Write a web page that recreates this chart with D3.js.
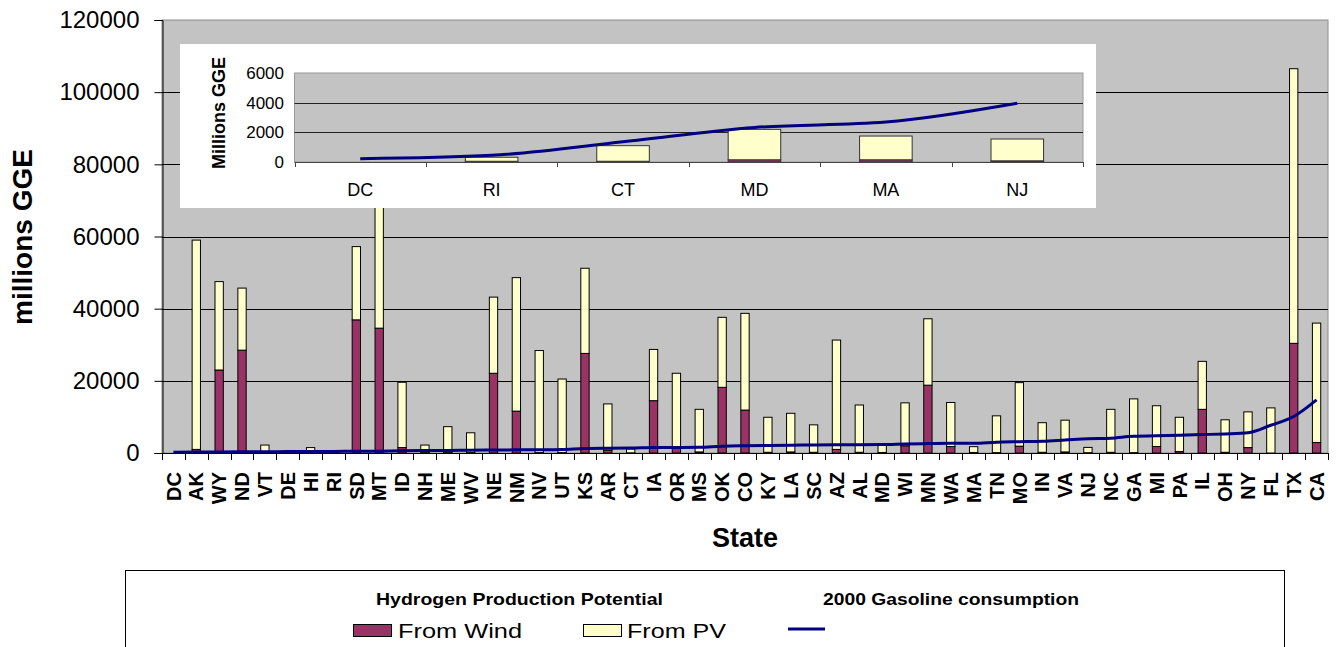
<!DOCTYPE html>
<html><head><meta charset="utf-8">
<script src="https://cdn.jsdelivr.net/npm/d3@7"></script>
<style>
body{margin:0;background:#fff}
svg{display:block}
text{font-family:"Liberation Sans",Arial,sans-serif;fill:#000}
</style>
</head><body>
<svg id="c" width="1337" height="647"></svg>
<script>
// ---------- data ----------
const states = ["DC","AK","WY","ND","VT","DE","HI","RI","SD","MT","ID","NH","ME","WV","NE","NM","NV","UT","KS","AR","CT","IA","OR","MS","OK","CO","KY","LA","SC","AZ","AL","MD","WI","MN","WA","MA","TN","MO","IN","VA","NJ","NC","GA","MI","PA","IL","OH","NY","FL","TX","CA"];
const windValues = [0,1000,23000,28500,100,0,100,50,36900,34600,1500,100,100,100,22100,11600,100,100,27600,800,50,14500,1800,300,18200,11900,200,300,200,1000,200,150,2000,18800,1800,150,100,1900,200,300,80,200,100,1800,400,12100,200,1500,0,30400,2900];
const pvValues = [0,58000,24500,17200,2100,300,1400,270,20300,43400,18100,2100,7200,5500,21100,37000,28300,20400,23600,12800,1050,14200,20300,11800,19400,26800,9700,10700,7600,30300,13100,2050,11900,18400,12200,1600,10200,17600,8200,8800,1470,11900,14900,11300,9500,13300,9000,9900,12500,76100,33100];
const gasoline = [220,280,310,330,340,400,420,450,460,500,620,680,700,790,830,870,900,980,1250,1330,1360,1500,1520,1560,1900,2030,2100,2150,2250,2300,2320,2330,2500,2600,2680,2690,3000,3130,3250,3600,3960,4100,4650,4750,4900,5100,5300,5600,7700,10100,14700];
const yTicks = [0,20000,40000,60000,80000,100000,120000];
const insetStates = ["DC","RI","CT","MD","MA","NJ"];
const insetTicks = [0,2000,4000,6000];

// ---------- setup ----------
const svg = d3.select("#c");
const WIND = "#993366", PV = "#ffffcc", LINE = "#000080", PLOT = "#c3c3c3";
const rows = states.map((s,i)=>({state:s, wind:windValues[i], pv:pvValues[i], gas:gasoline[i]}));
const keys = ["wind","pv"];
const colors = {wind:WIND, pv:PV};

// ---------- main chart ----------
const M = {l:162, r:1328, t:20, b:453};
const x = d3.scaleBand().domain(states).range([M.l, M.r]);
const y = d3.scaleLinear().domain([0,120000]).range([M.b, M.t]);
const bw = x.bandwidth()*0.364;

svg.append("rect").attr("x",M.l).attr("y",M.t).attr("width",M.r-M.l).attr("height",M.b-M.t)
  .attr("fill",PLOT).attr("stroke","#8c8c8c");

svg.append("g").selectAll("line").data(yTicks.filter(d=>d>0 && d<120000)).join("line")
  .attr("x1",M.l).attr("x2",M.r)
  .attr("y1",d=>Math.round(y(d))+0.5).attr("y2",d=>Math.round(y(d))+0.5)
  .attr("stroke","#000").attr("stroke-width",1);

const stacked = d3.stack().keys(keys)(rows);
svg.append("g").selectAll("g").data(stacked).join("g")
  .attr("fill",d=>colors[d.key])
  .selectAll("rect").data(d=>d.filter(v=>v[1]-v[0]>0)).join("rect")
  .attr("x",d=>x(d.data.state)+(x.bandwidth()-bw)/2)
  .attr("y",d=>y(d[1]))
  .attr("width",bw)
  .attr("height",d=>y(d[0])-y(d[1]))
  .attr("stroke","#000").attr("stroke-width",1);

// x axis line + boundary ticks
svg.append("line").attr("x1",M.l).attr("x2",M.r).attr("y1",M.b+0.5).attr("y2",M.b+0.5).attr("stroke","#000");
svg.append("g").selectAll("line").data(states.concat(["__end"])).join("line")
  .attr("x1",d=>Math.round(d==="__end"?M.r:x(d))+0.5)
  .attr("x2",d=>Math.round(d==="__end"?M.r:x(d))+0.5)
  .attr("y1",M.b).attr("y2",M.b+7).attr("stroke","#000");

// gasoline line
const line = d3.line().x(d=>x(d.state)+x.bandwidth()/2).y(d=>y(d.gas)).curve(d3.curveMonotoneX);
svg.append("path").datum(rows).attr("d",line).attr("fill","none").attr("stroke",LINE).attr("stroke-width",3);

// y axis
const yAxis = svg.append("g").attr("transform",`translate(${M.l+0.5},0)`)
  .call(d3.axisLeft(y).tickValues(yTicks).tickSize(8).tickPadding(15).tickFormat(d3.format("d")));
yAxis.select(".domain").attr("stroke","#000");
yAxis.selectAll(".tick line").attr("stroke","#000");
yAxis.selectAll(".tick text").attr("font-size",24).attr("font-family","Liberation Sans, Arial, sans-serif");

// x labels
svg.append("g").selectAll("text").data(states).join("text")
  .attr("transform",d=>`translate(${x(d)+x.bandwidth()/2},472) rotate(-90)`)
  .attr("text-anchor","end").attr("dy","0.36em")
  .attr("font-size",20).attr("font-weight","bold").text(d=>d);

svg.append("text").attr("transform","translate(22,237) rotate(-90)")
  .attr("text-anchor","middle").attr("dy","0.36em")
  .attr("font-size",28).attr("font-weight","bold").text("millions GGE");
svg.append("text").attr("x",745).attr("y",547).attr("text-anchor","middle")
  .attr("font-size",27).attr("font-weight","bold").text("State");

// ---------- inset ----------
svg.append("rect").attr("x",180).attr("y",44).attr("width",916).attr("height",164).attr("fill","#fff");
const I = {l:294.5, r:1083, t:73, b:162};
const ix = d3.scaleBand().domain(insetStates).range([I.l, I.r]);
const iy = d3.scaleLinear().domain([0,6000]).range([I.b, I.t]);
const ibw = ix.bandwidth()*0.4;
const irows = insetStates.map(s=>rows[states.indexOf(s)]);

svg.append("rect").attr("x",I.l).attr("y",I.t).attr("width",I.r-I.l).attr("height",I.b-I.t)
  .attr("fill",PLOT).attr("stroke","#9a9a9a");
svg.append("g").selectAll("line").data(insetTicks.filter(d=>d>0 && d<6000)).join("line")
  .attr("x1",I.l).attr("x2",I.r)
  .attr("y1",d=>Math.round(iy(d))+0.5).attr("y2",d=>Math.round(iy(d))+0.5)
  .attr("stroke","#222");

const istacked = d3.stack().keys(keys)(irows);
svg.append("g").selectAll("g").data(istacked).join("g")
  .attr("fill",d=>colors[d.key])
  .selectAll("rect").data(d=>d.filter(v=>v[1]-v[0]>0)).join("rect")
  .attr("x",d=>ix(d.data.state)+(ix.bandwidth()-ibw)/2)
  .attr("y",d=>iy(d[1]))
  .attr("width",ibw)
  .attr("height",d=>iy(d[0])-iy(d[1]))
  .attr("stroke","#333").attr("stroke-width",1);

svg.append("line").attr("x1",I.l).attr("x2",I.r).attr("y1",I.b+0.5).attr("y2",I.b+0.5).attr("stroke","#444");
svg.append("g").selectAll("line").data(insetStates.concat(["__end"])).join("line")
  .attr("x1",d=>Math.round(d==="__end"?I.r:ix(d))+0.5)
  .attr("x2",d=>Math.round(d==="__end"?I.r:ix(d))+0.5)
  .attr("y1",I.b).attr("y2",I.b+5).attr("stroke","#444");

const iline = d3.line().x(d=>ix(d.state)+ix.bandwidth()/2).y(d=>iy(d.gas)).curve(d3.curveMonotoneX);
svg.append("path").datum(irows).attr("d",iline).attr("fill","none").attr("stroke",LINE).attr("stroke-width",3);

svg.append("g").selectAll("text").data(insetTicks).join("text")
  .attr("x",284).attr("y",d=>iy(d)).attr("dy","0.36em").attr("text-anchor","end")
  .attr("font-size",17).text(d=>d);
svg.append("g").selectAll("text").data(insetStates).join("text")
  .attr("x",d=>ix(d)+ix.bandwidth()/2).attr("y",196).attr("text-anchor","middle")
  .attr("font-size",18).text(d=>d);
svg.append("text").attr("transform","translate(219,113) rotate(-90)")
  .attr("text-anchor","middle").attr("dy","0.36em")
  .attr("font-size",18).attr("font-weight","bold").text("Millions GGE");

// ---------- legend ----------
const lg = svg.append("g");
lg.append("rect").attr("x",125.5).attr("y",570.5).attr("width",1159).attr("height",120)
  .attr("fill","#fff").attr("stroke","#000");
lg.append("text").attr("x",376).attr("y",605).attr("font-size",17).attr("font-weight","bold")
  .attr("textLength",287).attr("lengthAdjust","spacingAndGlyphs").text("Hydrogen Production Potential");
lg.append("text").attr("x",823).attr("y",605).attr("font-size",17).attr("font-weight","bold")
  .attr("textLength",256).attr("lengthAdjust","spacingAndGlyphs").text("2000 Gasoline consumption");
lg.append("rect").attr("x",353.5).attr("y",624.5).attr("width",38).attr("height",12).attr("fill",WIND).attr("stroke","#000");
lg.append("text").attr("x",398).attr("y",638).attr("font-size",20)
  .attr("textLength",124).attr("lengthAdjust","spacingAndGlyphs").text("From Wind");
lg.append("rect").attr("x",583.5).attr("y",624.5).attr("width",38).attr("height",12).attr("fill",PV).attr("stroke","#000");
lg.append("text").attr("x",627).attr("y",638).attr("font-size",20)
  .attr("textLength",99).attr("lengthAdjust","spacingAndGlyphs").text("From PV");
lg.append("line").attr("x1",788).attr("x2",825).attr("y1",629).attr("y2",629).attr("stroke",LINE).attr("stroke-width",3);
</script>
</body></html>
